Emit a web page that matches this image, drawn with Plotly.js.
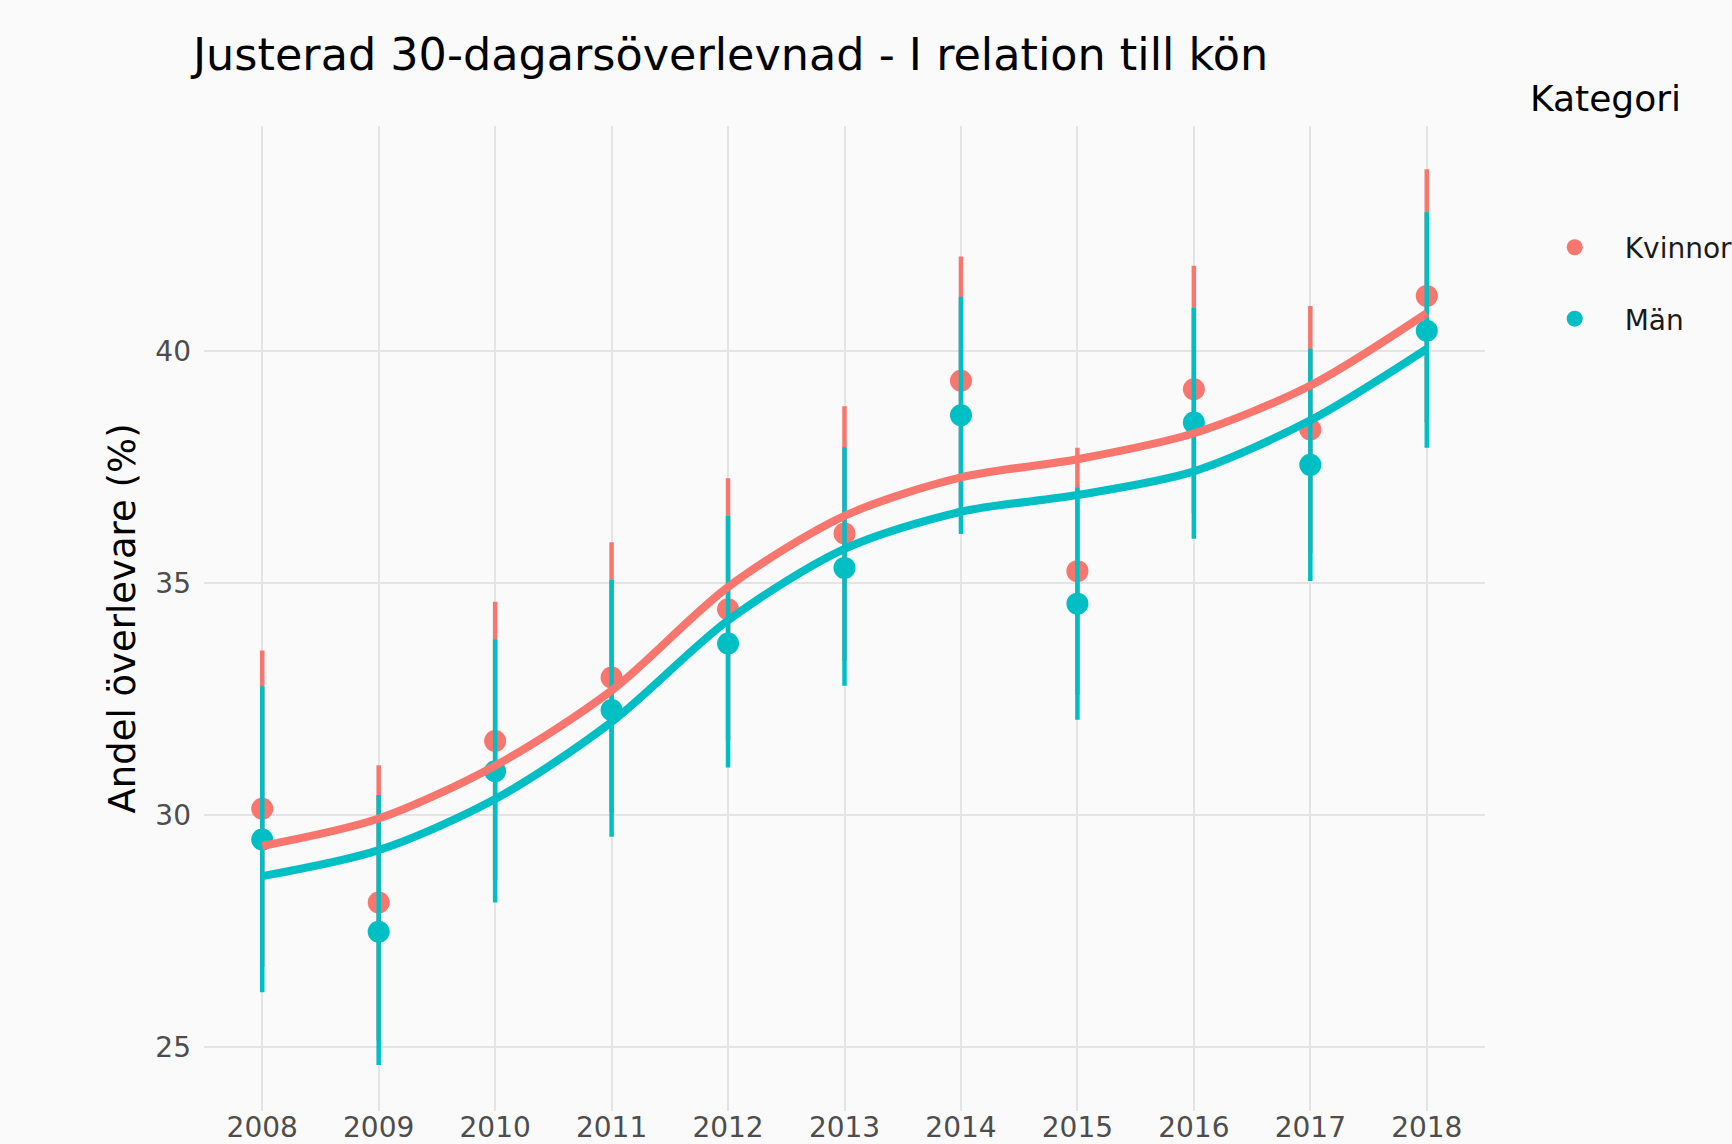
<!DOCTYPE html>
<html>
<head>
<meta charset="utf-8">
<script src="https://cdn.plot.ly/plotly-3.0.1.min.js"></script>
<style>
  html, body { margin: 0; padding: 0; background: #fafafa; }
  #chart { width: 1732px; height: 1144px; }
</style>
</head>
<body>
<div id="chart"></div>
<script>
// ---- data ----
const years = [2008, 2009, 2010, 2011, 2012, 2013, 2014, 2015, 2016, 2017, 2018];
const seriesNames = ["Kvinnor", "Män"];

const kvinnor     = [30.14, 28.12, 31.60, 32.97, 34.44, 36.07, 39.36, 35.26, 39.18, 38.31, 41.19];
const kvinnorHi   = [33.55, 31.08, 34.60, 35.88, 37.26, 38.81, 42.04, 37.92, 41.84, 40.97, 43.92];
const kvinnorLo   = [26.73, 25.16, 28.60, 30.06, 31.62, 33.33, 36.68, 32.60, 36.52, 35.65, 38.46];
const kvinnorTrend = [29.34, 29.93, 31.07, 32.69, 34.92, 36.45, 37.28, 37.67, 38.23, 39.26, 40.82];

const man       = [29.48, 27.49, 30.95, 32.27, 33.70, 35.33, 38.62, 34.56, 38.46, 37.55, 40.44];
const manHi     = [32.78, 30.44, 33.79, 35.07, 36.45, 37.93, 41.17, 37.06, 40.93, 40.05, 42.99];
const manLo     = [26.19, 24.62, 28.12, 29.54, 31.03, 32.79, 36.06, 32.06, 35.96, 35.05, 37.92];
const manTrend  = [28.69, 29.25, 30.35, 32.01, 34.20, 35.74, 36.54, 36.90, 37.41, 38.51, 40.05];

const yTicks = [25, 30, 35, 40];

// ---- styling ----
const RED = "#F8766D";
const TEAL = "#00BFC4";
const FONT = "DejaVu Sans, Verdana, sans-serif";

function pointTrace(name, vals, lo, hi, color, group) {
  return {
    type: "scatter", mode: "markers", name: name,
    x: years, y: vals,
    legendgroup: group,
    marker: { color: color, size: 22, line: { width: 0 } },
    error_y: {
      type: "data", symmetric: false,
      array: hi.map((h, i) => h - vals[i]),
      arrayminus: lo.map((l, i) => vals[i] - l),
      color: color, thickness: 4.5, width: 0
    },
    hoverinfo: "x+y+name"
  };
}
function trendTrace(name, vals, color, group) {
  return {
    type: "scatter", mode: "lines", name: name,
    x: years, y: vals, legendgroup: group, showlegend: false,
    line: { color: color, width: 8, shape: "spline", smoothing: 0.85 },
    hoverinfo: "skip"
  };
}

const data = [
  pointTrace(seriesNames[0], kvinnor, kvinnorLo, kvinnorHi, RED, "k"),
  pointTrace(seriesNames[1], man, manLo, manHi, TEAL, "m"),
  trendTrace(seriesNames[0], kvinnorTrend, RED, "k"),
  trendTrace(seriesNames[1], manTrend, TEAL, "m")
];

const layout = {
  width: 1732, height: 1144,
  paper_bgcolor: "#fafafa", plot_bgcolor: "#fafafa",
  font: { family: FONT, color: "#1a1a1a" },
  margin: { l: 204, r: 247, t: 126, b: 33, autoexpand: false },
  title: {
    text: "Justerad 30-dagarsöverlevnad - I relation till kön",
    font: { family: FONT, size: 44.5, color: "#000000" },
    xref: "container", x: 193 / 1732, xanchor: "left",
    yref: "container", y: 1 - 54 / 1144, yanchor: "middle"
  },
  xaxis: {
    range: [2007.5, 2018.5],
    tickmode: "array", tickvals: years, ticktext: years.map(String),
    showgrid: true, gridcolor: "#e4e4e4", gridwidth: 2,
    zeroline: false, showline: false, ticks: "",
    tickfont: { family: FONT, size: 28, color: "#4d4d4d" },
    ticklabelstandoff: -3,
    automargin: false
  },
  yaxis: {
    range: [23.63, 44.85],
    tickmode: "array", tickvals: yTicks, ticktext: yTicks.map(String),
    showgrid: true, gridcolor: "#e4e4e4", gridwidth: 2,
    zeroline: false, showline: false, ticks: "",
    tickfont: { family: FONT, size: 28, color: "#4d4d4d" },
    ticklabelstandoff: 12,
    title: { text: "Andel överlevare (%)", font: { family: FONT, size: 37, color: "#000000" }, standoff: 8 },
    automargin: false
  },
  showlegend: true,
  legend: {
    x: 1.031, xanchor: "left", y: 0.902, yanchor: "top",
    bgcolor: "rgba(0,0,0,0)",
    font: { family: FONT, size: 28, color: "#1a1a1a" },
    itemwidth: 90, tracegroupgap: 32, itemsizing: "trace",
    traceorder: "grouped"
  },
  annotations: [{
    text: "Kategori", showarrow: false,
    xref: "paper", yref: "paper",
    x: (1528 - 204) / 1281, xanchor: "left",
    y: (1111 - 99) / 985, yanchor: "middle",
    font: { family: FONT, size: 36, color: "#000000" }
  }]
};

Plotly.newPlot("chart", data, layout, { displayModeBar: false, responsive: false });
</script>
</body>
</html>
